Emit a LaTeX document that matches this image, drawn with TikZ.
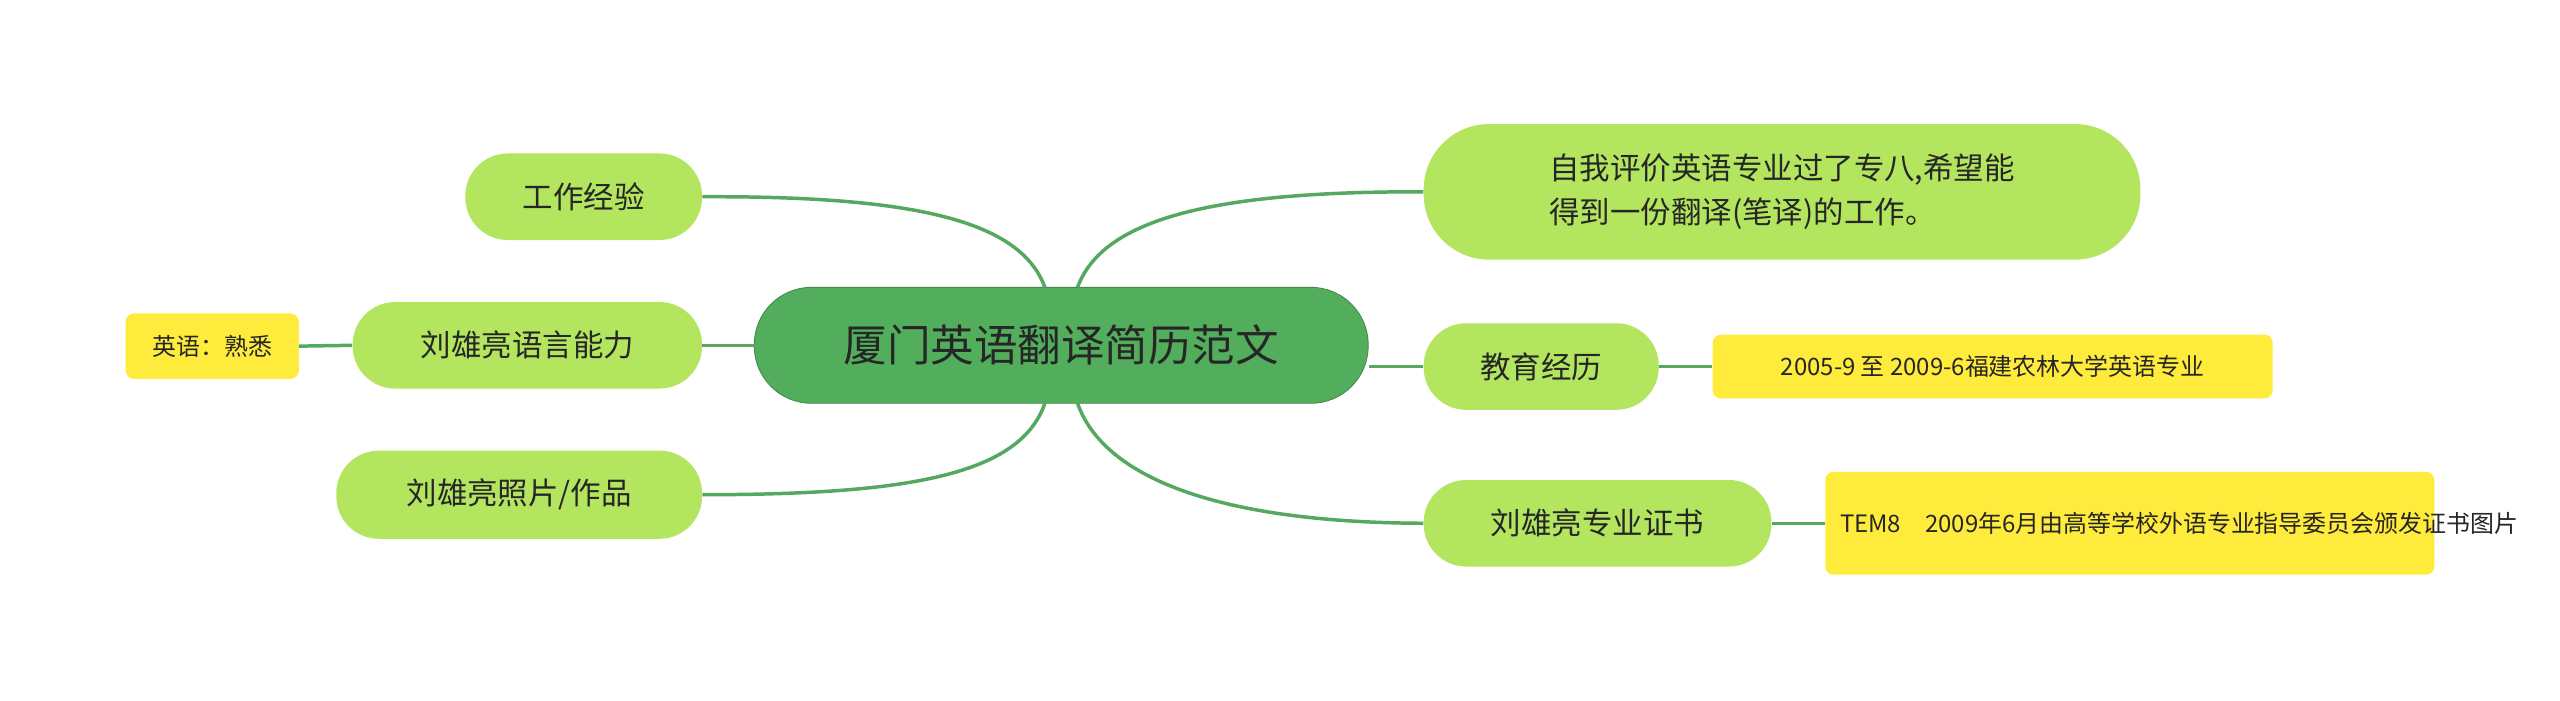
\documentclass[tikz,border=0pt]{standalone}
\usepackage{fontspec}
\setmainfont{Noto Sans CJK SC}
\definecolor{root}{HTML}{52AE5C}
\definecolor{sub}{HTML}{B3E55F}
\definecolor{yel}{HTML}{FFEB3B}
\definecolor{ln}{HTML}{55A85F}
\begin{document}
\begin{tikzpicture}[x=0.75pt,y=-0.75pt,
  base/.style={anchor=center,inner sep=0pt,text=black!85,align=left},
  rootbox/.style={base,fill=root,draw=root!80!black,rounded corners=35*0.75pt,font=\fontsize{20}{24}\selectfont},
  subbox/.style={base,fill=sub,rounded corners=26*0.75pt,font=\fontsize{14}{20}\selectfont},
  leafbox/.style={base,fill=yel,rounded corners=5*0.75pt,font=\fontsize{11}{15}\selectfont},
  conn/.style={draw=ln,line width=1.6pt}]
\useasboundingbox (0,0) rectangle (1568,429);
\node[rootbox,minimum width=376*0.75pt,minimum height=71*0.75pt] (c) at (650,211.5) {厦门英语翻译简历范文};
\node[subbox,minimum width=145*0.75pt,minimum height=53*0.75pt] (w) at (357.5,120.5) {工作经验};
\node[subbox,minimum width=214*0.75pt,minimum height=53*0.75pt] (l) at (323,211.5) {刘雄亮语言能力};
\node[leafbox,minimum width=106*0.75pt,minimum height=40*0.75pt] (le) at (130,212) {英语：熟悉};
\node[subbox,minimum width=224*0.75pt,minimum height=54*0.75pt] (p) at (318,303) {刘雄亮照片/作品};
\node[subbox,minimum width=439*0.75pt,minimum height=83*0.75pt,rounded corners=40*0.75pt] (s) at (1091.5,117.5) {\hspace*{0pt}自我评价英语专业过了专八,希望能\\得到一份翻译(笔译)的工作。};
\node[subbox,minimum width=144*0.75pt,minimum height=53*0.75pt] (e) at (944,224.5) {教育经历};
\node[leafbox,minimum width=343*0.75pt,minimum height=39*0.75pt] (ey) at (1220.5,224.5) {2005-9 至 2009-6福建农林大学英语专业};
\node[subbox,minimum width=213*0.75pt,minimum height=53*0.75pt] (z) at (978.5,320.5) {刘雄亮专业证书};
\node[leafbox,minimum width=373*0.75pt,minimum height=63*0.75pt,text width=355*0.75pt] (zy) at (1304.5,320.5) {TEM8\quad 2009年6月由高等学校外语专业指导委员会颁发证书图片};
\coordinate (ctl) at (640,176);
\coordinate (ctr) at (660,176);
\coordinate (cbl) at (640,247);
\coordinate (cbr) at (660,247);
\draw[conn] (ctl) .. controls (625,135) and (560,120) .. (w.east);
\draw[conn] (ctr) .. controls (675,135) and (740,117) .. (s.west);
\draw[conn] (cbl) .. controls (625,290) and (560,303) .. (p.east);
\draw[conn] (cbr) .. controls (675,290) and (740,320) .. (z.west);
\draw[conn] (c.west) -- (l.east);
\draw[conn] (l.west) -- (le.east);
\draw[conn] (c.east|-e.west) -- (e.west);
\draw[conn] (e.east) -- (ey.west);
\draw[conn] (z.east) -- (zy.west);
\end{tikzpicture}
\end{document}
